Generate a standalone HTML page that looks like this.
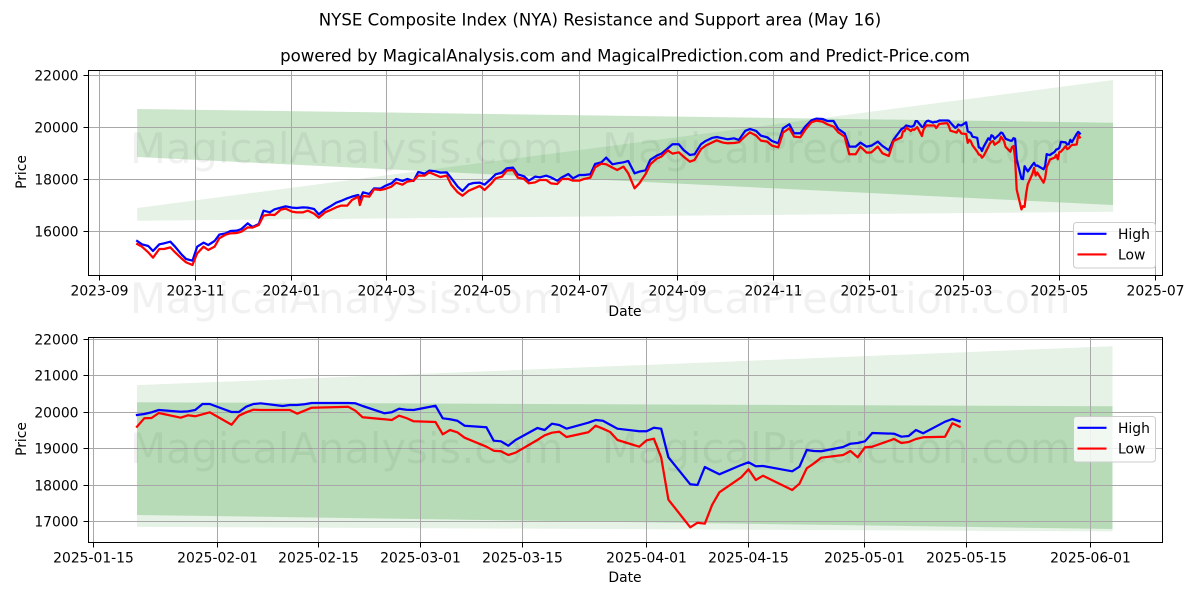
<!DOCTYPE html>
<html lang="en">
<head>
<meta charset="utf-8">
<title>NYSE Composite Index (NYA) Resistance and Support area</title>
<style>
html,body{margin:0;padding:0;background:#fff;}
svg{display:block;font-family:"DejaVu Sans","Liberation Sans",sans-serif;fill:#000;}
.tick-label{font-size:13.89px;}
.axis-title{font-size:13.89px;}
.legend-text{font-size:13.89px;}
.mark{fill:none;stroke-width:2.25;stroke-linejoin:round;stroke-linecap:square;}
.wm{font-size:41.67px;fill:#000;fill-opacity:.055;pointer-events:none;}
</style>
</head>
<body>
<svg id="chart" xmlns="http://www.w3.org/2000/svg" width="1200" height="600" viewBox="0 0 1200 600">
  <rect x="0" y="0" width="1200" height="600" fill="#fff"/>
  <text x="600" y="25.5" text-anchor="middle" font-size="16.6">NYSE Composite Index (NYA) Resistance and Support area (May 16)</text>
  <text x="625" y="61.5" text-anchor="middle" font-size="16.6">powered by MagicalAnalysis.com and MagicalPrediction.com and Predict-Price.com</text>

  <g id="top-axes"></g>
  <g id="bottom-axes"></g>

  <text class="axis-title" x="625" y="316" text-anchor="middle">Date</text>
  <text class="axis-title" transform="translate(26,172) rotate(-90)" text-anchor="middle">Price</text>
  <text class="axis-title" x="625" y="582" text-anchor="middle">Date</text>
  <text class="axis-title" transform="translate(26,439) rotate(-90)" text-anchor="middle">Price</text>

  <g>
    <rect x="1073.5" y="222.5" width="82" height="45.5" rx="3" fill="#fff" fill-opacity=".8" stroke="#ccc" stroke-width="1"/>
    <line x1="1077.5" x2="1106.5" y1="233.8" y2="233.8" stroke="#00f" stroke-width="2.08"/>
    <text class="legend-text" x="1118" y="239">High</text>
    <line x1="1077.5" x2="1106.5" y1="254.4" y2="254.4" stroke="#f00" stroke-width="2.08"/>
    <text class="legend-text" x="1118" y="259.5">Low</text>
  </g>
  <g>
    <rect x="1073.5" y="416.5" width="82" height="45.5" rx="3" fill="#fff" fill-opacity=".8" stroke="#ccc" stroke-width="1"/>
    <line x1="1077.5" x2="1106.5" y1="427.8" y2="427.8" stroke="#00f" stroke-width="2.08"/>
    <text class="legend-text" x="1118" y="433">High</text>
    <line x1="1077.5" x2="1106.5" y1="448.6" y2="448.6" stroke="#f00" stroke-width="2.08"/>
    <text class="legend-text" x="1118" y="453.7">Low</text>
  </g>

  <g>
    <text class="wm" x="130" y="163">MagicalAnalysis.com</text>
    <text class="wm" x="602" y="163">MagicalPrediction.com</text>
    <text class="wm" x="130" y="313">MagicalAnalysis.com</text>
    <text class="wm" x="602" y="313">MagicalPrediction.com</text>
    <text class="wm" x="130" y="463">MagicalAnalysis.com</text>
    <text class="wm" x="602" y="463">MagicalPrediction.com</text>
  </g>
</svg>

<script>
/* ---------- data ---------- */
const olderDates = [
'2023-09-25','2023-09-28','2023-10-02','2023-10-05','2023-10-09','2023-10-12','2023-10-16','2023-10-19','2023-10-23','2023-10-26',
'2023-10-30','2023-11-02','2023-11-06','2023-11-09','2023-11-13','2023-11-16','2023-11-20','2023-11-23','2023-11-27','2023-11-30',
'2023-12-04','2023-12-07','2023-12-11','2023-12-14','2023-12-18','2023-12-21','2023-12-25','2023-12-28','2024-01-01','2024-01-04',
'2024-01-08','2024-01-11','2024-01-15','2024-01-18','2024-01-22','2024-01-25','2024-01-29','2024-02-01','2024-02-05','2024-02-08',
'2024-02-12','2024-02-13','2024-02-15','2024-02-19',
'2024-02-22','2024-02-26','2024-02-29','2024-03-04','2024-03-07','2024-03-11','2024-03-14','2024-03-18','2024-03-21','2024-03-25',
'2024-03-28','2024-04-01','2024-04-04','2024-04-08','2024-04-11','2024-04-15','2024-04-18','2024-04-22','2024-04-25','2024-04-29',
'2024-05-02','2024-05-06','2024-05-09','2024-05-13','2024-05-16','2024-05-20','2024-05-23','2024-05-27','2024-05-30','2024-06-03',
'2024-06-06','2024-06-10','2024-06-13','2024-06-17','2024-06-20','2024-06-24','2024-06-27','2024-07-01','2024-07-04','2024-07-08','2024-07-11',
'2024-07-15','2024-07-18','2024-07-22','2024-07-25','2024-07-29','2024-08-01','2024-08-05','2024-08-08','2024-08-12','2024-08-15',
'2024-08-19','2024-08-22','2024-08-26','2024-08-29','2024-09-02','2024-09-05','2024-09-09','2024-09-12','2024-09-16','2024-09-19',
'2024-09-23','2024-09-26','2024-09-30','2024-10-03','2024-10-07','2024-10-10','2024-10-14','2024-10-17','2024-10-21','2024-10-24',
'2024-10-28','2024-10-31','2024-11-04','2024-11-07','2024-11-11','2024-11-14','2024-11-18','2024-11-21','2024-11-25','2024-11-28',
'2024-12-02','2024-12-05','2024-12-09','2024-12-12','2024-12-16','2024-12-19','2024-12-23','2024-12-26','2024-12-30','2025-01-02',
'2025-01-06','2025-01-09','2025-01-13','2025-01-16'];
const olderHigh = [
15628,15500,15436,15244,15500,15538,15602,15410,15116,14936,
14872,15410,15564,15474,15628,15871,15922,16012,16024,16088,
16306,16165,16280,16792,16728,16844,16908,16959,16908,16895,
16920,16908,16856,16652,16844,16946,17100,17164,17266,17330,
17394,17228,17496,17432,
17650,17637,17740,17842,18008,17932,18008,17932,18277,18213,
18328,18303,18252,18264,18034,17714,17548,17804,17855,17868,
17791,18008,18188,18252,18418,18444,18188,18111,17944,18098,
18072,18136,18072,17944,18072,18200,18034,18162,18162,18188,18584,
18648,18828,18572,18610,18648,18700,18226,18290,18341,18751,
18904,18981,19186,19340,19340,19122,18930,18956,19340,19468,
19583,19621,19570,19532,19570,19506,19852,19928,19852,19672,
19608,19468,19378,19954,20108,19762,19762,20018,20261,20325,
20312,20236,20236,19928,19762,19250,19250,19404,19250,19288,
19442,19276,19109,19519];
const olderLow = [
15512,15410,15192,14988,15320,15320,15384,15192,14962,14808,
14706,15154,15410,15282,15410,15730,15871,15922,15935,15986,
16152,16140,16242,16600,16639,16626,16831,16869,16754,16728,
16728,16792,16677,16524,16728,16805,16920,16984,16984,17202,
17330,17010,17356,17330,
17612,17586,17624,17714,17868,17791,17906,17944,18136,18136,
18264,18162,18085,18136,17778,17496,17368,17560,17637,17740,
17586,17816,18034,18098,18328,18354,18060,18008,17842,17880,
17970,17970,17842,17816,18008,18008,17944,17944,18008,18060,18456,
18597,18572,18444,18354,18482,18226,17650,17842,18200,18572,
18789,18866,19109,18981,19032,18866,18674,18738,19148,19288,
19404,19493,19404,19378,19391,19416,19647,19800,19672,19480,
19442,19288,19224,19788,19954,19634,19608,19890,20184,20248,
20210,20108,20018,19800,19634,18956,18956,19250,19020,19032,
19250,18994,18892,19468];

const recentDates = [
'2025-01-21','2025-01-22','2025-01-23','2025-01-24','2025-01-27','2025-01-28','2025-01-29','2025-01-30','2025-01-31',
'2025-02-03','2025-02-04','2025-02-05','2025-02-06','2025-02-07','2025-02-10','2025-02-11','2025-02-12','2025-02-13','2025-02-14',
'2025-02-18','2025-02-19','2025-02-20','2025-02-21','2025-02-24','2025-02-25','2025-02-26','2025-02-27','2025-02-28',
'2025-03-03','2025-03-04','2025-03-05','2025-03-06','2025-03-07','2025-03-10','2025-03-11','2025-03-12','2025-03-13','2025-03-14',
'2025-03-17','2025-03-18','2025-03-19','2025-03-20','2025-03-21','2025-03-24','2025-03-25','2025-03-26','2025-03-27','2025-03-28',
'2025-03-31','2025-04-01','2025-04-02','2025-04-03','2025-04-04','2025-04-07','2025-04-08','2025-04-09','2025-04-10','2025-04-11',
'2025-04-14','2025-04-15','2025-04-16','2025-04-17','2025-04-21','2025-04-22','2025-04-23','2025-04-24','2025-04-25',
'2025-04-28','2025-04-29','2025-04-30','2025-05-01','2025-05-02','2025-05-05','2025-05-06','2025-05-07','2025-05-08','2025-05-09',
'2025-05-12','2025-05-13','2025-05-14'];
const recentHigh = [
19926,19953,20000,20063,20016,20027,20063,20228,20228,
20008,20008,20154,20228,20247,20173,20200,20200,20220,20255,
20255,20255,20247,20173,19973,20000,20099,20071,20063,
20181,19835,19808,19769,19632,19588,19220,19203,19082,19239,
19569,19514,19687,19651,19550,19714,19788,19769,19659,19550,
19478,19478,19577,19550,18764,18022,18003,18497,18396,18297,
18552,18627,18517,18525,18379,18506,18964,18937,18929,
19047,19137,19157,19203,19431,19412,19330,19349,19514,19423,
19742,19816,19753];
const recentLow = [
19604,19835,19843,19981,19852,19918,19890,19945,20000,
19659,19907,20000,20071,20063,20063,20063,19962,20044,20126,
20146,20154,20044,19863,19808,19788,19907,19843,19753,
19734,19396,19514,19451,19302,19055,18945,18929,18827,18890,
19239,19368,19440,19467,19322,19451,19632,19550,19459,19239,
19055,19231,19275,18764,17599,16841,16967,16940,17454,17802,
18214,18434,18140,18258,17866,18039,18462,18599,18753,
18827,18937,18764,19039,19055,19267,19157,19184,19267,19313,
19330,19698,19604];

/* band endpoints (start, end) */
const topBandDates = ['2023-09-25','2025-06-04'];
const topResistanceTop = [20695,20169];
const topResistanceBottom = [18852,17010];
const topSupportTop = [16894,21808];
const topSupportBottom = [16407,16752];

const bottomBandDates = ['2025-01-21','2025-06-04'];
const bottomResistanceTop = [20275,20165];
const bottomResistanceBottom = [17179,16794];
const bottomSupportTop = [20745,21813];
const bottomSupportBottom = [16854,16728];

/* tick labels */
const topXTicks = ['2023-09','2023-11','2024-01','2024-03','2024-05','2024-07','2024-09','2024-11','2025-01','2025-03','2025-05','2025-07'];
const topYTicks = [16000,18000,20000,22000];
const bottomXTicks = ['2025-01-15','2025-02-01','2025-02-15','2025-03-01','2025-03-15','2025-04-01','2025-04-15','2025-05-01','2025-05-15','2025-06-01'];
const bottomYTicks = [17000,18000,19000,20000,21000,22000];

/* ---------- axis functions ---------- */
const NS = 'http://www.w3.org/2000/svg';
function dayNum(s){
  const p = s.split('-').map(Number);
  return Date.UTC(p[0], p[1]-1, p[2] || 1) / 86400000;
}
const topBase = dayNum('2023-09-01');
const bottomBase = dayNum('2025-01-15');
function xTop(s){ return 99.3 + (dayNum(s) - topBase) * 1.579; }
function yTop(v){ return 231.3 - (v - 16000) * 0.02605; }
function xBottom(s){ return 93.3 + (dayNum(s) - bottomBase) * 7.28; }
function yBottom(v){ return 412.3 - (v - 20000) * 0.0364; }
function snap(p){ return Math.floor(p) + 0.5; }

function mk(tag, parent, attrs){
  const e = document.createElementNS(NS, tag);
  for (const k in attrs) e.setAttribute(k, attrs[k]);
  parent.appendChild(e);
  return e;
}
function linePoints(dates, vals, xf, yf){
  return dates.map(function(d, i){ return xf(d).toFixed(2) + ',' + yf(vals[i]).toFixed(2); }).join(' ');
}
function bandPoints(dates, upper, lower, xf, yf){
  return xf(dates[0]) + ',' + yf(upper[0]) + ' ' + xf(dates[1]) + ',' + yf(upper[1]) + ' ' +
         xf(dates[1]) + ',' + yf(lower[1]) + ' ' + xf(dates[0]) + ',' + yf(lower[0]);
}

function drawPanel(cfg){
  const g = cfg.group;
  const L = 88.5, R = 1162.5;

  const support = mk('polygon', g, {points: bandPoints(cfg.bandDates, cfg.supTop, cfg.supBot, cfg.x, cfg.y), fill: '#008000', 'fill-opacity': 0.1});
  
  

  const resistance = mk('polygon', g, {points: bandPoints(cfg.bandDates, cfg.resTop, cfg.resBot, cfg.x, cfg.y), fill: '#008000', 'fill-opacity': 0.2});
  
  

  cfg.xTicks.forEach(function(t){
    const px = snap(cfg.x(t));
    const grid = mk('line', g, {x1: px, x2: px, y1: cfg.top, y2: cfg.bottom, stroke: '#a8a8a8', 'stroke-width': 1});
    
    
    const tick = mk('line', g, {x1: px, x2: px, y1: cfg.bottom, y2: cfg.bottom + 5, stroke: '#000', 'stroke-width': 1});
    
    
    const label = mk('text', g, {x: px, y: cfg.bottom + 20, 'text-anchor': 'middle', 'class': 'tick-label'});
    label.textContent = t;
    
    
  });
  cfg.yTicks.forEach(function(t){
    const py = snap(cfg.y(t));
    const grid = mk('line', g, {x1: L, x2: R, y1: py, y2: py, stroke: '#a8a8a8', 'stroke-width': 1});
    
    
    const tick = mk('line', g, {x1: L - 5, x2: L, y1: py, y2: py, stroke: '#000', 'stroke-width': 1});
    
    
    const label = mk('text', g, {x: 78.5, y: py + 5, 'text-anchor': 'end', 'class': 'tick-label'});
    label.textContent = String(t);
    
    
  });

  const high = mk('polyline', g, {points: linePoints(cfg.dates, cfg.high, cfg.x, cfg.y), stroke: '#0000ff', 'class': 'mark'});
  
  
  const low = mk('polyline', g, {points: linePoints(cfg.dates, cfg.low, cfg.x, cfg.y), stroke: '#ff0000', 'class': 'mark'});
  
  

  const frame = mk('rect', g, {x: L, y: cfg.top, width: R - L, height: cfg.bottom - cfg.top, fill: 'none', stroke: '#000', 'stroke-width': 1});
  
  
}

drawPanel({
  group: document.getElementById('top-axes'),
  top: 70.5, bottom: 275.5,
  x: xTop, y: yTop,
  dates: olderDates.concat(recentDates),
  high: olderHigh.concat(recentHigh),
  low: olderLow.concat(recentLow),
  bandDates: topBandDates,
  resTop: topResistanceTop, resBot: topResistanceBottom,
  supTop: topSupportTop, supBot: topSupportBottom,
  xTicks: topXTicks, yTicks: topYTicks
});
drawPanel({
  group: document.getElementById('bottom-axes'),
  top: 337.5, bottom: 542.5,
  x: xBottom, y: yBottom,
  dates: recentDates,
  high: recentHigh,
  low: recentLow,
  bandDates: bottomBandDates,
  resTop: bottomResistanceTop, resBot: bottomResistanceBottom,
  supTop: bottomSupportTop, supBot: bottomSupportBottom,
  xTicks: bottomXTicks, yTicks: bottomYTicks
});
</script>
</body>
</html>
